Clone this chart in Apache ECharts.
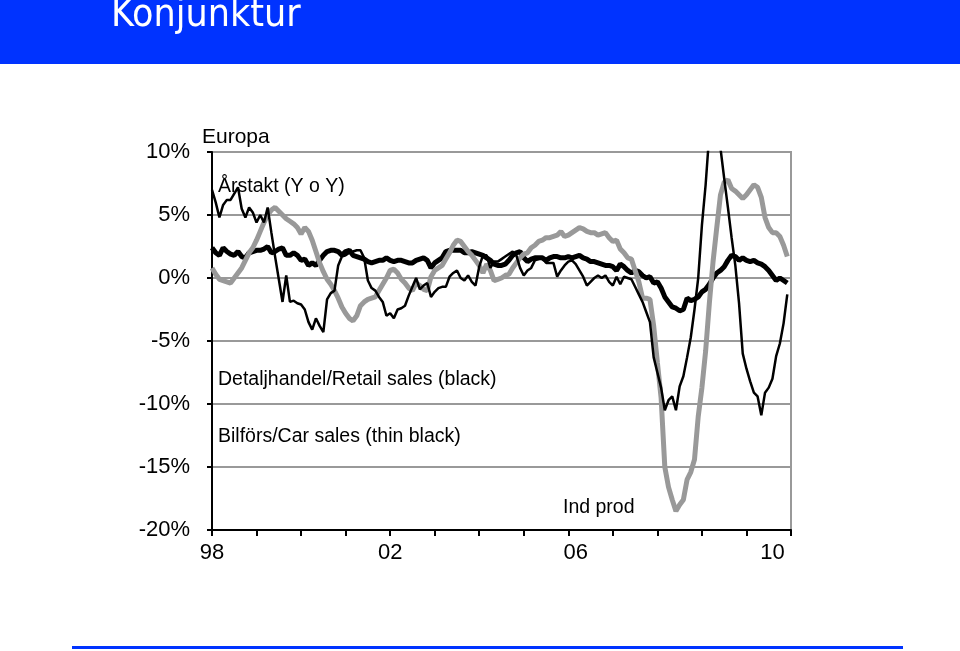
<!DOCTYPE html>
<html>
<head>
<meta charset="utf-8">
<title>Konjunktur</title>
<script src="https://cdn.jsdelivr.net/npm/echarts@6/dist/echarts.min.js"></script>
<style>
html, body { margin: 0; padding: 0; background: #fff; }
#main { width: 960px; height: 651px; }
</style>
</head>
<body>
<div id="main"></div>
<script>
// Europa, årstakt (Y o Y) i procent, månadsdata från jan 1998
var months = [];
for (var yr = 1998; yr <= 2011; yr++) {
    for (var mo = 1; mo <= 12; mo++) {
        if (yr === 2011 && mo > 1) break;
        months.push(yr + '-' + (mo < 10 ? '0' + mo : mo));
    }
}

// tick labels on the x axis and where they sit (month index)
var xLabels = ['98', '02', '06', '10'];
var xLabelIdx = [0, 48, 98, 151];

// Detaljhandel/Retail sales (thick black)
var retail = [
    2.4, 2.0, 1.8, 2.4, 2.1, 1.9, 1.8, 2.1, 1.7, 1.6, 2.0, 2.1,
    2.2, 2.2, 2.3, 2.5, 2.0, 2.1, 2.3, 2.4, 1.8, 1.8, 2.0, 1.8,
    1.4, 1.5, 1.0, 1.2, 1.0, 1.4, 1.8, 2.1, 2.2, 2.2, 2.1, 1.8,
    2.1, 2.2, 1.8, 1.7, 1.6, 1.5, 1.3, 1.2, 1.3, 1.4, 1.4, 1.6,
    1.4, 1.3, 1.4, 1.4, 1.3, 1.2, 1.2, 1.4, 1.5, 1.6, 1.4, 0.8,
    1.2, 1.4, 1.6, 2.1, 2.2, 2.2, 2.2, 2.2, 2.0, 2.0, 2.1, 2.0,
    1.9, 1.8, 1.6, 1.4, 1.1, 1.0, 1.0, 1.1, 1.4, 1.8, 2.0, 2.1,
    1.6, 1.3, 1.5, 1.6, 1.6, 1.6, 1.4, 1.6, 1.7, 1.7, 1.6, 1.6,
    1.7, 1.6, 1.7, 1.8, 1.6, 1.5, 1.3, 1.3, 1.2, 1.1, 1.0, 1.0,
    0.9, 0.6, 1.1, 0.9, 0.6, 0.4, 0.6, 0.5, 0.2, 0.0, 0.1, -0.4,
    -0.3, -0.8, -1.5, -1.9, -2.3, -2.4, -2.6, -2.5, -1.6, -1.8, -1.7, -1.5,
    -1.1, -0.9, -0.5, 0.0, 0.4, 0.6, 0.9, 1.4, 1.8, 1.7, 1.4, 1.6,
    1.4, 1.3, 1.4, 1.2, 1.1, 0.9, 0.6, 0.2, -0.2, 0.0, -0.2, -0.4
];

// Ind prod (thick grey)
var indProd = [
    0.8, 0.3, -0.1, -0.2, -0.3, -0.4, 0.0, 0.4, 0.8, 1.4, 2.0, 2.4,
    3.0, 3.7, 4.4, 5.0, 5.4, 5.6, 5.3, 5.0, 4.7, 4.5, 4.3, 4.0,
    3.5, 4.0, 3.7, 3.0, 2.1, 1.2, 0.5, -0.1, -0.5, -1.0, -1.6, -2.3,
    -2.8, -3.2, -3.4, -3.0, -2.2, -1.9, -1.7, -1.6, -1.5, -1.0, -0.5, 0.0,
    0.6, 0.7, 0.4, -0.1, -0.4, -0.8, -1.0, -0.4, -0.6, -0.9, -1.0, 0.1,
    0.6, 0.8, 1.0, 1.5, 2.0, 2.6, 3.0, 2.9, 2.5, 2.1, 1.8, 1.4,
    1.0, 0.4, 1.1, 0.6, -0.2, -0.1, 0.0, 0.2, 0.3, 0.8, 1.2, 1.6,
    1.9, 2.0, 2.4, 2.6, 2.9, 3.0, 3.2, 3.2, 3.3, 3.4, 3.7, 3.3,
    3.4, 3.6, 3.8, 4.0, 3.9, 3.7, 3.6, 3.6, 3.4, 3.5, 3.6, 3.2,
    2.9, 3.0, 2.3, 2.0, 1.6, 1.5, 0.6, -0.3, -1.6, -1.6, -1.7, -3.8,
    -6.7, -9.5, -15.0, -16.6, -17.6, -18.5, -18.0, -17.6, -16.0, -15.4, -14.4, -11.0,
    -8.7, -5.8, -2.0, 1.3, 4.0, 6.6, 7.6, 7.8, 7.1, 6.9, 6.6, 6.3,
    6.6, 7.0, 7.4, 7.2, 6.4, 4.8, 4.0, 3.6, 3.6, 3.3, 2.6, 1.7
];

// Bilförs/Car sales (thin black)
var carSales = [
    7.0, 6.0, 4.8, 5.8, 6.2, 6.2, 6.7, 7.2, 5.5, 4.8, 5.6, 5.2,
    4.4, 5.0, 4.4, 5.6, 3.6, 1.7, -0.1, -1.9, 0.2, -1.9, -1.8, -2.0,
    -2.1, -2.5, -3.5, -4.1, -3.2, -3.8, -4.3, -1.7, -1.2, -1.0, 1.0, 1.7,
    1.8, 2.0, 2.1, 2.2, 2.2, 1.6, -0.2, -0.8, -1.0, -1.5, -1.9, -3.0,
    -2.8, -3.2, -2.5, -2.4, -2.2, -1.4, -0.7, 0.0, -0.9, -0.6, -0.4, -1.5,
    -1.1, -0.8, -0.7, -0.7, 0.1, 0.4, 0.6, 0.0, -0.2, 0.2, -0.3, -0.6,
    0.9, 1.8, 1.8, 0.8, 1.3, 1.3, 1.5, 1.7, 1.9, 2.1, 1.8, 0.8,
    0.2, 0.6, 0.8, 1.4, 1.5, 1.6, 1.2, 1.2, 1.2, 0.1, 0.6, 1.0,
    1.3, 1.4, 1.1, 0.6, 0.1, -0.6, -0.3, 0.0, 0.2, 0.0, 0.2, -0.3,
    -0.6, 0.1, -0.5, 0.1, 0.0, -0.1, -0.7, -1.3, -1.9, -2.7, -3.5, -6.3,
    -7.5, -8.7, -10.5, -9.7, -9.4, -10.5, -8.6, -7.8, -6.3, -4.7, -2.5, 0.0,
    4.2, 7.4, 11.5, 13.5, 12.5, 10.3, 7.9, 5.6, 3.2, 1.0, -2.0, -6.0,
    -7.2, -8.2, -9.1, -9.4, -10.9, -9.1, -8.7, -8.0, -6.2, -5.2, -3.6, -1.3
];

var blue = '#0033ff';
var txtFont = '"Liberation Sans", Arial, sans-serif';

var myChart = echarts.init(document.getElementById('main'), null, { renderer: 'canvas' });

var option = {
    backgroundColor: '#fff',
    animation: false,
    grid: {
        left: 212,
        right: 169,
        top: 152,
        bottom: 121,
        show: true,
        borderColor: '#999',
        borderWidth: 2
    },
    xAxis: {
        type: 'category',
        data: months,
        boundaryGap: false,
        axisLine: { show: true, onZero: false, lineStyle: { color: '#000', width: 2 } },
        axisTick: {
            show: true,
            length: 6,
            interval: function(idx) { return idx % 12 === 0; },
            lineStyle: { color: '#000', width: 2 }
        },
        axisLabel: {
            show: true,
            margin: 12,
            color: '#000',
            fontFamily: txtFont,
            fontSize: 22,
            interval: function(idx) { return xLabelIdx.indexOf(idx) >= 0; },
            formatter: function(val, idx) {
                var k = xLabelIdx.indexOf(idx);
                return k >= 0 ? xLabels[k] : '';
            }
        },
        splitLine: { show: false }
    },
    yAxis: {
        type: 'value',
        min: -20,
        max: 10,
        interval: 5,
        axisLine: { show: true, lineStyle: { color: '#000', width: 2 } },
        axisTick: { show: true, length: 5, lineStyle: { color: '#000', width: 2 } },
        axisLabel: {
            margin: 22,
            color: '#000',
            fontFamily: txtFont,
            fontSize: 22,
            formatter: '{value}%'
        },
        splitLine: { show: true, lineStyle: { color: '#999', width: 2 } }
    },
    series: [
        {
            name: 'Detaljhandel/Retail sales',
            type: 'line',
            data: retail,
            symbol: 'none',
            clip: true,
            z: 3,
            lineStyle: { color: '#000', width: 5 }
        },
        {
            name: 'Ind prod',
            type: 'line',
            data: indProd,
            symbol: 'none',
            clip: true,
            z: 4,
            lineStyle: { color: '#999', width: 5 }
        },
        {
            name: 'Bilförs/Car sales',
            type: 'line',
            data: carSales,
            symbol: 'none',
            clip: true,
            z: 5,
            lineStyle: { color: '#000', width: 2.5 }
        }
    ],
    graphic: [
        { type: 'rect', left: 0, top: 0, z: 1, shape: { width: 960, height: 64 }, style: { fill: blue } },
        { type: 'text', x: 111, y: 16, z: 2, style: { text: 'Konjunktur', fill: '#fff', font: '39px "DejaVu Sans Condensed", "DejaVu Sans", sans-serif', verticalAlign: 'middle' } },
        { type: 'text', x: 202, y: 137, z: 10, style: { text: 'Europa', fill: '#000', font: '21px ' + txtFont, verticalAlign: 'middle' } },
        { type: 'text', x: 218, y: 187, z: 10, style: { text: 'Årstakt (Y o Y)', fill: '#000', font: '19.5px ' + txtFont, verticalAlign: 'middle' } },
        { type: 'text', x: 218, y: 380, z: 10, style: { text: 'Detaljhandel/Retail sales (black)', fill: '#000', font: '19.5px ' + txtFont, verticalAlign: 'middle' } },
        { type: 'text', x: 218, y: 437, z: 10, style: { text: 'Bilförs/Car sales (thin black)', fill: '#000', font: '19.5px ' + txtFont, verticalAlign: 'middle' } },
        { type: 'text', x: 563, y: 508, z: 10, style: { text: 'Ind prod', fill: '#000', font: '19.5px ' + txtFont, verticalAlign: 'middle' } },
        { type: 'rect', left: 72, top: 646, z: 1, shape: { width: 831, height: 3 }, style: { fill: blue } }
    ]
};
myChart.setOption(option);
</script>
</body>
</html>
